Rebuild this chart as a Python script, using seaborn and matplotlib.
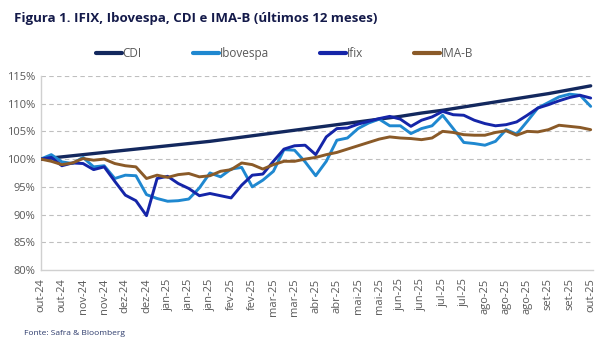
import numpy as np
import pandas as pd
import matplotlib
matplotlib.use("Agg")
import matplotlib.pyplot as plt
import seaborn as sns
from matplotlib.lines import Line2D

# ---------------- data ----------------
tick_labels = ["out-24", "out-24", "nov-24", "nov-24", "dez-24", "dez-24", "jan-25",
               "jan-25", "jan-25", "fev-25", "fev-25", "mar-25", "mar-25", "abr-25",
               "abr-25", "mai-25", "mai-25", "jun-25", "jun-25", "jul-25", "jul-25",
               "ago-25", "ago-25", "ago-25", "set-25", "set-25", "out-25"]

# CDI sampled at each tick (every 10 trading days)
cdi = [100.0, 100.4, 100.8, 101.2, 101.6, 102.0, 102.4, 102.8, 103.2, 103.7, 104.2,
       104.7, 105.2, 105.7, 106.2, 106.7, 107.2, 107.7, 108.3, 108.8, 109.4, 110.0,
       110.6, 111.2, 111.8, 112.5, 113.2]

# Other series sampled every 5 trading days
ibovespa = [100.0, 100.8, 99.5, 99.2, 100.3, 98.6, 98.8, 96.5, 97.1, 97.0, 93.6,
            92.9, 92.4, 92.5, 92.8, 94.8, 97.5, 96.8, 98.2, 98.5, 95.0, 96.2,
            97.8, 101.7, 101.6, 99.5, 97.0, 99.6, 103.4, 103.8, 105.5, 106.5,
            107.2, 106.0, 106.0, 104.6, 105.5, 106.0, 107.9, 105.5, 103.0, 102.8,
            102.5, 103.2, 105.3, 104.5, 106.8, 109.2, 110.2, 111.2, 111.7, 111.5,
            109.5]
ifix = [100.0, 100.3, 98.8, 99.3, 99.2, 98.1, 98.6, 96.0, 93.5, 92.5, 89.8,
        96.5, 96.9, 95.6, 94.7, 93.4, 93.8, 93.4, 93.0, 95.3, 97.1, 97.3,
        99.6, 101.8, 102.4, 102.5, 100.8, 104.0, 105.5, 105.6, 106.3, 106.8,
        107.3, 107.7, 107.2, 105.9, 107.0, 107.6, 108.6, 108.0, 107.9, 107.0,
        106.4, 106.0, 106.2, 106.7, 107.9, 109.2, 109.8, 110.5, 111.1, 111.5,
        111.0]
imab = [100.0, 99.6, 99.0, 99.3, 100.1, 99.8, 100.0, 99.2, 98.8, 98.6, 96.5,
        97.1, 96.7, 97.2, 97.4, 96.8, 97.0, 97.8, 98.1, 99.3, 99.0, 98.2,
        99.0, 99.6, 99.6, 100.0, 100.3, 100.8, 101.2, 101.8, 102.4, 103.0,
        103.6, 104.0, 103.8, 103.7, 103.5, 103.8, 105.0, 104.8, 104.4, 104.3,
        104.3, 104.8, 105.1, 104.3, 105.0, 104.9, 105.3, 106.1, 105.9, 105.7,
        105.3]

y_ticks = [80, 85, 90, 95, 100, 105, 110, 115]

# ---------------- style ----------------
sns.set_theme(style="white")
plt.rcParams["font.family"] = ["Open Sans", "DejaVu Sans"]

colors = {"CDI": "#13285e", "Ibovespa": "#1f88d0", "Ifix": "#1525a8", "IMA-B": "#8a5a28"}

fig = plt.figure(figsize=(6.08, 3.48), dpi=100)
ax = fig.add_axes([0.067, 0.224, 0.908, 0.558])

x_cdi = np.arange(len(cdi)) * 10
x_daily = np.arange(len(ifix)) * 5

df_cdi = pd.DataFrame({"x": x_cdi, "v": cdi})
df_bov = pd.DataFrame({"x": x_daily, "v": ibovespa})
df_ifx = pd.DataFrame({"x": x_daily, "v": ifix})
df_imb = pd.DataFrame({"x": x_daily, "v": imab})

sns.lineplot(data=df_cdi, x="x", y="v", ax=ax, color=colors["CDI"], linewidth=2.4, zorder=3)
sns.lineplot(data=df_bov, x="x", y="v", ax=ax, color=colors["Ibovespa"], linewidth=2.1, zorder=4)
sns.lineplot(data=df_ifx, x="x", y="v", ax=ax, color=colors["Ifix"], linewidth=2.1, zorder=5)
sns.lineplot(data=df_imb, x="x", y="v", ax=ax, color=colors["IMA-B"], linewidth=2.1, zorder=6)

ax.set_xlim(0, 261)
ax.set_ylim(80, 115)
ax.set_yticks(y_ticks)
ax.set_yticklabels([f"{t}%" for t in y_ticks], color="#595959", fontsize=8)
ax.set_xticks(x_cdi)
ax.set_xticklabels(tick_labels, rotation=90, color="#595959", fontsize=8)
ax.set_xlabel("")
ax.set_ylabel("")

for t in y_ticks[1:]:
    ax.axhline(t, color="#bfbfbf", linestyle=(0, (4, 3)), linewidth=0.8, zorder=1)

for side in ["top", "right"]:
    ax.spines[side].set_visible(False)
for side in ["left", "bottom"]:
    ax.spines[side].set_color("#d0d0d0")
    ax.spines[side].set_linewidth(1.0)

ax.tick_params(axis="x", which="major", direction="out", length=4, width=0.8,
               color="#d0d0d0", pad=2)
ax.tick_params(axis="y", which="major", length=0, pad=4)

# legend
handles = [Line2D([0], [0], color=colors[k], linewidth=3) for k in colors]
leg = fig.legend(handles, list(colors.keys()), loc="center", bbox_to_anchor=(0.468, 0.845),
                 ncol=4, frameon=False, fontsize=8.5, handlelength=2.2,
                 handletextpad=0.1, columnspacing=4.3)
for txt in leg.get_texts():
    txt.set_color("#595959")

fig.text(0.023, 0.948, "Figura 1. IFIX, Ibovespa, CDI e IMA-B (últimos 12 meses)",
         fontsize=9.5, fontweight="bold", color="#141a4a", ha="left", va="center")
fig.text(0.04, 0.042, "Fonte: Safra & Bloomberg", fontsize=6, color="#2c3a6b",
         ha="left", va="center")

fig.savefig("out.png", dpi=100)
